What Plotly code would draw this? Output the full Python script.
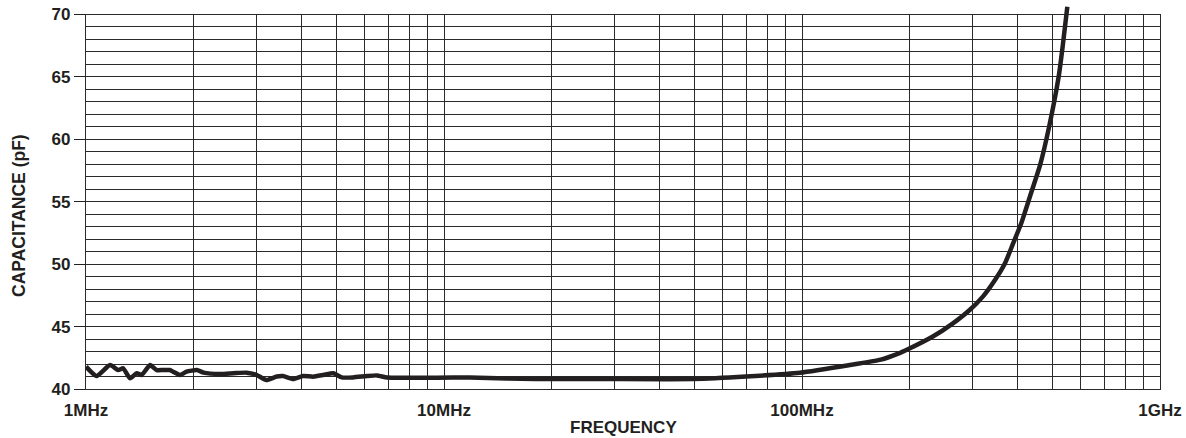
import plotly.graph_objects as go

# Frequency in MHz and capacitance in pF
freq_mhz = [1.00, 1.07, 1.167, 1.23, 1.27, 1.327, 1.386, 1.43, 1.51, 1.575,
            1.64, 1.715, 1.75, 1.83, 1.91, 2.04, 2.13, 2.37, 2.58, 2.81,
            3.0, 3.19, 3.41, 3.55, 3.79, 4.04, 4.31, 4.6, 4.91, 5.18,
            5.57, 6.09, 6.49, 6.93, 7.7, 9.53, 11.8, 15.0, 18.0, 27.3,
            49.6, 69.8, 98.6, 135, 166, 188, 195, 232, 264, 294,
            320, 346, 369, 388, 410, 421, 433, 463, 490, 521,
            535, 551]
cap_pf = [41.79, 41.04, 41.92, 41.52, 41.66, 40.86, 41.26, 41.12, 41.92, 41.52,
          41.52, 41.52, 41.39, 41.12, 41.39, 41.52, 41.31, 41.20, 41.26, 41.31,
          41.12, 40.72, 41.00, 41.04, 40.80, 41.04, 40.99, 41.12, 41.26, 40.93,
          40.93, 41.04, 41.09, 40.93, 40.90, 40.90, 40.92, 40.85, 40.80, 40.80,
          40.80, 41.00, 41.30, 41.90, 42.35, 42.90, 43.10, 44.20, 45.26, 46.33,
          47.40, 48.73, 50.07, 51.60, 53.30, 54.30, 55.40, 58.00, 61.00, 65.00,
          67.50, 70.63]

x_tick_vals = [1e6, 1e7, 1e8, 1e9]
x_tick_text = ["1MHz", "10MHz", "100MHz", "1GHz"]
y_tick_vals = [40, 45, 50, 55, 60, 65, 70]
y_range = [40, 70]
x_title = "FREQUENCY"
y_title = "CAPACITANCE (pF)"

freq_hz = [f * 1e6 for f in freq_mhz]

INK = "#231f20"
GRID = "#2a2a2a"
GW = 1.4
FAMILY = "Liberation Sans, Arial, sans-serif"
TICK_FONT = dict(family=FAMILY, size=17, color=INK, weight="bold")
TITLE_FONT = dict(family=FAMILY, size=17, color=INK, weight="bold")
YTITLE_FONT = dict(family=FAMILY, size=17.5, color=INK, weight="bold")

W, H = 1186, 438
M_L, M_R, M_T, M_B = 86, 26, 5, 49
plot_h = H - M_T - M_B
main_top_px = 14.5
main_dom_top = (H - M_B - main_top_px) / plot_h
y2_top = y_range[0] + (y_range[1] - y_range[0]) / main_dom_top

minor_x = [m * d for d in (1e6, 1e7, 1e8) for m in range(2, 10)]

fig = go.Figure()
# invisible copy on the gridded axes so that subplot is built
fig.add_trace(go.Scatter(
    x=freq_hz, y=cap_pf, xaxis="x", yaxis="y", mode="lines",
    line=dict(color="rgba(0,0,0,0)", width=1),
    showlegend=False, hoverinfo="skip"))
# visible curve on an identically scaled, slightly taller overlay subplot
fig.add_trace(go.Scatter(
    x=freq_hz, y=cap_pf, xaxis="x2", yaxis="y2", mode="lines",
    line=dict(color=INK, width=4.5, shape="spline", smoothing=0.5),
    showlegend=False, hoverinfo="skip"))

fig.update_layout(
    width=W, height=H,
    margin=dict(l=M_L, r=M_R, t=M_T, b=M_B, autoexpand=False),
    paper_bgcolor="white", plot_bgcolor="rgba(0,0,0,0)",
    showlegend=False,
    xaxis=dict(
        type="log", range=[6, 9], domain=[0, 1], anchor="y",
        tickmode="array", tickvals=x_tick_vals, ticktext=x_tick_text,
        ticks="outside", ticklen=5, tickcolor="rgba(0,0,0,0)",
        tickfont=TICK_FONT,
        showgrid=True, gridcolor=GRID, gridwidth=GW,
        minor=dict(tickmode="array", tickvals=minor_x, showgrid=True,
                   gridcolor=GRID, gridwidth=GW, ticks=""),
        showline=True, linecolor=GRID, linewidth=GW, mirror=True,
        zeroline=False, fixedrange=True, automargin=False,
    ),
    yaxis=dict(
        range=y_range, domain=[0, main_dom_top], anchor="x",
        tickmode="array", tickvals=y_tick_vals,
        ticks="outside", ticklen=11, tickcolor=INK, tickwidth=GW,
        tickfont=TICK_FONT,
        showgrid=True, gridcolor=GRID, gridwidth=GW,
        minor=dict(dtick=1, showgrid=True, gridcolor=GRID, gridwidth=GW, ticks=""),
        showline=True, linecolor=GRID, linewidth=GW, mirror=True,
        zeroline=False, fixedrange=True, automargin=False,
    ),
    xaxis2=dict(type="log", range=[6, 9], domain=[0, 1], anchor="y2",
                visible=False, fixedrange=True),
    yaxis2=dict(range=[y_range[0], y2_top], domain=[0, 1], anchor="x2",
                visible=False, fixedrange=True),
    annotations=[
        dict(text=x_title, xref="paper", yref="paper", x=0.5, y=0,
             xanchor="center", yanchor="middle", yshift=-38,
             showarrow=False, font=TITLE_FONT),
        dict(text=y_title, xref="paper", yref="paper", x=0, y=(H - M_B - 216) / plot_h,
             xanchor="center", yanchor="middle", xshift=-67, textangle=-90,
             showarrow=False, font=YTITLE_FONT),
    ],
)

fig.write_html("out.html", config={"displayModeBar": False},
               post_script="document.body.style.margin='0';")
